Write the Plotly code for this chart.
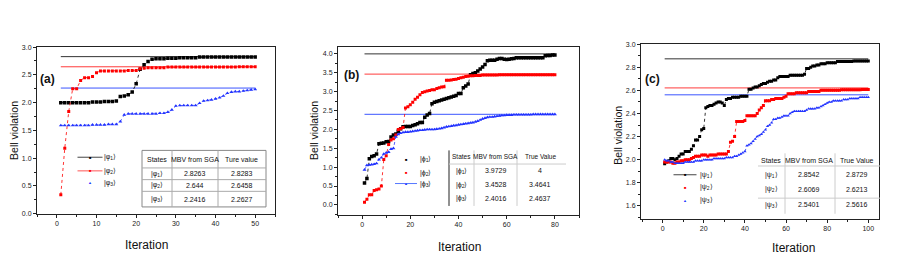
import plotly.graph_objects as go

W, H = 913, 276
OFF = 8  # page body margin
FONT = "Liberation Sans, Arial, sans-serif"

def px(x):
    return (x - OFF) / W

def py(y):
    return 1 - (y - OFF) / H

# ---------------- data ----------------
iter_a = list(range(1, 51))
a_phi1 = [2.00, 2.00, 2.00, 2.00, 2.00, 2.00, 2.00, 2.00, 2.01, 2.01,
          2.01, 2.02, 2.02, 2.02, 2.03, 2.11, 2.12, 2.14, 2.19, 2.34,
          2.60, 2.68, 2.74, 2.78, 2.79, 2.79, 2.79, 2.80, 2.80, 2.80,
          2.81, 2.81, 2.81, 2.81, 2.81, 2.82, 2.82, 2.82, 2.82, 2.82,
          2.82, 2.82, 2.82, 2.82, 2.82, 2.82, 2.82, 2.82, 2.82, 2.82]
a_phi2 = [0.34, 1.18, 1.84, 2.25, 2.25, 2.40, 2.45, 2.45, 2.47, 2.54,
          2.57, 2.57, 2.57, 2.57, 2.57, 2.57, 2.57, 2.58, 2.58, 2.58,
          2.61, 2.62, 2.63, 2.63, 2.63, 2.63, 2.63, 2.64, 2.64, 2.64,
          2.64, 2.64, 2.64, 2.64, 2.64, 2.64, 2.64, 2.64, 2.64, 2.64,
          2.64, 2.64, 2.64, 2.64, 2.64, 2.645, 2.645, 2.645, 2.645, 2.645]
a_phi3 = [1.59, 1.59, 1.59, 1.59, 1.59, 1.59, 1.59, 1.59, 1.60, 1.60,
          1.60, 1.60, 1.61, 1.61, 1.61, 1.66, 1.78, 1.80, 1.80, 1.80,
          1.80, 1.80, 1.80, 1.80, 1.80, 1.81, 1.81, 1.83, 1.87, 1.94,
          1.95, 1.95, 1.95, 1.95, 1.95, 1.99, 2.03, 2.04, 2.05, 2.07,
          2.09, 2.12, 2.17, 2.19, 2.20, 2.20, 2.21, 2.22, 2.23, 2.24]
ref_a = [2.8283, 2.6458, 2.2627]

iter_b = list(range(1, 81))
b_phi1 = [0.58, 0.70, 1.22, 1.28, 1.30, 1.35, 1.62, 1.63, 1.64, 1.67,
          1.68, 1.80, 1.85, 1.88, 1.95, 2.02, 2.07, 2.08, 2.08, 2.08,
          2.10, 2.12, 2.15, 2.18, 2.18, 2.32, 2.38, 2.42, 2.68, 2.72,
          2.74, 2.76, 2.78, 2.80, 2.82, 2.84, 2.86, 2.88, 2.90, 2.95,
          2.95, 3.10, 3.15, 3.20, 3.45, 3.48, 3.50, 3.55, 3.60, 3.65,
          3.72, 3.82, 3.83, 3.83, 3.83, 3.86, 3.88, 3.88, 3.86, 3.85,
          3.86, 3.87, 3.88, 3.90, 3.90, 3.90, 3.90, 3.90, 3.90, 3.90,
          3.90, 3.90, 3.90, 3.90, 3.90, 3.95, 3.96, 3.96, 3.97, 3.97]
b_phi2 = [0.07, 0.15, 0.27, 0.27, 0.38, 0.40, 0.42, 0.50, 1.20, 1.30,
          1.60, 1.72, 1.75, 1.85, 2.00, 2.02, 2.05, 2.57, 2.60, 2.65,
          2.72, 2.80, 2.85, 2.92, 2.98, 3.00, 3.02, 3.03, 3.05, 3.05,
          3.08, 3.10, 3.12, 3.13, 3.30, 3.30, 3.31, 3.32, 3.33, 3.35,
          3.37, 3.38, 3.40, 3.41, 3.42, 3.42, 3.43, 3.43, 3.43, 3.44,
          3.44, 3.44, 3.44, 3.44, 3.44, 3.44, 3.45, 3.45, 3.45, 3.45,
          3.45, 3.45, 3.45, 3.45, 3.45, 3.45, 3.45, 3.45, 3.45, 3.45,
          3.45, 3.45, 3.45, 3.45, 3.45, 3.45, 3.45, 3.45, 3.45, 3.45]
b_phi3 = [0.93, 1.05, 1.06, 1.07, 1.08, 1.10, 1.20, 1.25, 1.35, 1.38,
          1.40, 1.48, 1.50, 1.80, 1.87, 1.90, 1.92, 1.93, 1.93, 1.94,
          1.95, 1.96, 1.97, 1.98, 1.98, 1.99, 2.00, 2.00, 2.00, 2.00,
          2.01, 2.02, 2.03, 2.05, 2.07, 2.08, 2.09, 2.10, 2.11, 2.12,
          2.13, 2.14, 2.15, 2.16, 2.17, 2.18, 2.20, 2.22, 2.25, 2.28,
          2.30, 2.32, 2.33, 2.33, 2.34, 2.35, 2.36, 2.37, 2.37, 2.38,
          2.38, 2.38, 2.39, 2.39, 2.39, 2.39, 2.39, 2.39, 2.39, 2.39,
          2.40, 2.40, 2.40, 2.40, 2.40, 2.40, 2.40, 2.40, 2.40, 2.40]
ref_b = [4.0, 3.4641, 2.40]

iter_c = list(range(1, 101))
c_psi1 = [1.965, 1.98, 1.99, 2.01, 2.01, 2.00, 2.01, 2.03, 2.05, 2.05,
          2.07, 2.07, 2.07, 2.09, 2.12, 2.17, 2.17, 2.20, 2.26, 2.27,
          2.45, 2.46, 2.47, 2.47, 2.48, 2.49, 2.50, 2.50, 2.49, 2.47,
          2.52, 2.53, 2.53, 2.54, 2.54, 2.54, 2.54, 2.55, 2.55, 2.55,
          2.55, 2.61, 2.61, 2.62, 2.63, 2.63, 2.64, 2.65, 2.66, 2.66,
          2.67, 2.68, 2.68, 2.69, 2.69, 2.71, 2.72, 2.72, 2.72, 2.72,
          2.72, 2.73, 2.73, 2.73, 2.73, 2.73, 2.73, 2.73, 2.74, 2.79,
          2.79, 2.80, 2.81, 2.81, 2.82, 2.82, 2.83, 2.83, 2.83, 2.84,
          2.84, 2.84, 2.84, 2.84, 2.85, 2.85, 2.85, 2.85, 2.85, 2.85,
          2.85, 2.85, 2.855, 2.855, 2.855, 2.855, 2.855, 2.855, 2.855, 2.854]
c_psi2 = [1.98, 1.98, 1.98, 1.98, 1.97, 1.97, 1.98, 1.98, 1.99, 1.99,
          2.00, 2.00, 2.00, 2.01, 2.02, 2.03, 2.03, 2.03, 2.04, 2.04,
          2.04, 2.03, 2.04, 2.04, 2.04, 2.04, 2.05, 2.05, 2.05, 2.05,
          2.05, 2.07, 2.15, 2.16, 2.20, 2.33, 2.33, 2.33, 2.33, 2.34,
          2.38, 2.38, 2.38, 2.38, 2.38, 2.40, 2.43, 2.45, 2.47, 2.51,
          2.51, 2.51, 2.52, 2.52, 2.53, 2.53, 2.53, 2.53, 2.54, 2.55,
          2.57, 2.57, 2.57, 2.57, 2.58, 2.58, 2.58, 2.58, 2.58, 2.58,
          2.59, 2.59, 2.59, 2.59, 2.59, 2.59, 2.60, 2.60, 2.60, 2.60,
          2.60, 2.60, 2.60, 2.60, 2.60, 2.60, 2.605, 2.605, 2.605, 2.605,
          2.605, 2.605, 2.605, 2.605, 2.605, 2.605, 2.607, 2.607, 2.607, 2.607]
c_psi3 = [2.00, 1.99, 1.99, 1.98, 1.98, 1.97, 1.97, 1.97, 1.97, 1.97,
          1.98, 1.98, 1.98, 1.98, 1.98, 1.99, 1.99, 1.99, 1.99, 2.00,
          2.00, 2.00, 2.00, 2.00, 2.01, 2.01, 2.01, 2.01, 2.01, 2.01,
          2.02, 2.02, 2.02, 2.02, 2.03, 2.03, 2.04, 2.05, 2.06, 2.07,
          2.12, 2.13, 2.14, 2.16, 2.18, 2.20, 2.21, 2.22, 2.24, 2.26,
          2.29, 2.30, 2.32, 2.35, 2.35, 2.36, 2.36, 2.37, 2.38, 2.38,
          2.38, 2.40, 2.41, 2.42, 2.42, 2.42, 2.42, 2.42, 2.42, 2.43,
          2.44, 2.44, 2.44, 2.44, 2.45, 2.45, 2.46, 2.47, 2.48, 2.49,
          2.50, 2.50, 2.51, 2.51, 2.51, 2.51, 2.51, 2.52, 2.52, 2.52,
          2.53, 2.53, 2.53, 2.53, 2.53, 2.54, 2.54, 2.54, 2.54, 2.54]
ref_c = [2.8729, 2.6213, 2.5616]

kets_a = ["|φ<sub>1</sub>⟩", "|φ<sub>2</sub>⟩", "|φ<sub>3</sub>⟩"]
kets_b = ["|ϕ<sub>1</sub>⟩", "|ϕ<sub>2</sub>⟩", "|ϕ<sub>3</sub>⟩"]
kets_c = ["|ψ<sub>1</sub>⟩", "|ψ<sub>2</sub>⟩", "|ψ<sub>3</sub>⟩"]

table_a_head = ["States", "MBV from SGA", "Ture value"]
table_a_mbv = ["2.8263", "2.644", "2.2416"]
table_a_true = ["2.8283", "2.6458", "2.2627"]
table_b_head = ["States", "MBV from SGA", "True Value"]
table_b_mbv = ["3.9729", "3.4528", "2.4016"]
table_b_true = ["4", "3.4641", "2.4637"]
table_c_head = ["States", "MBV from SGA", "True Value"]
table_c_mbv = ["2.8542", "2.6069", "2.5401"]
table_c_true = ["2.8729", "2.6213", "2.5616"]

# ---------------- styles ----------------
COLORS = ["#000000", "#ff0000", "#2233ff"]
REF_COLORS = ["#333333", "#ff3b3b", "#3b55ff"]
SYMBOLS = ["square", "square", "triangle-up"]

fig = go.Figure()

panels = [
    dict(x=iter_a, ys=[a_phi1, a_phi2, a_phi3], ref=ref_a, xa="x", ya="y",
         dom_x=[37, 275], dom_y=[44, 215], xr=[-5, 55], yr=[0, 3.0],
         xdt=10, xminor=5, ydt=0.5, yminor=0.25, sizes=[3.5, 3, 3.5]),
    dict(x=iter_b, ys=[b_phi1, b_phi2, b_phi3], ref=ref_b, xa="x2", ya="y2",
         dom_x=[338, 579], dom_y=[44, 216], xr=[-10, 90], yr=[-0.26, 4.18],
         xdt=20, xminor=10, ydt=0.5, yminor=0.25, sizes=[3.5, 3, 3.5]),
    dict(x=iter_c, ys=[c_psi1, c_psi2, c_psi3], ref=ref_c, xa="x3", ya="y3",
         dom_x=[641, 879], dom_y=[41, 220], xr=[-10.5, 105.2], yr=[1.49, 3.0],
         xdt=20, xminor=10, ydt=0.2, yminor=0.1, sizes=[3, 3, 3]),
]

for i, p in enumerate(panels):
    for k in range(3):
        fig.add_trace(go.Scatter(
            x=[p["x"][0], p["x"][-1]], y=[p["ref"][k], p["ref"][k]],
            mode="lines", line=dict(color=REF_COLORS[k], width=1),
            xaxis=p["xa"], yaxis=p["ya"], showlegend=False, hoverinfo="skip"))
    for k in range(3):
        fig.add_trace(go.Scatter(
            x=p["x"], y=p["ys"][k], mode="lines+markers",
            line=dict(color=COLORS[k], width=0.8, dash="dot"),
            marker=dict(symbol=SYMBOLS[k], size=p["sizes"][k], color=COLORS[k],
                        line=dict(width=0)),
            xaxis=p["xa"], yaxis=p["ya"], showlegend=False))

    sfx = "" if i == 0 else str(i + 1)
    common = dict(showline=True, linecolor="#222", linewidth=1, mirror=True,
                  ticks="outside", ticklen=3, tickwidth=1, tickcolor="#222",
                  showgrid=False, zeroline=False,
                  tickfont=dict(size=7, family=FONT, color="#222"))
    fig.update_layout(**{
        "xaxis" + sfx: dict(common, domain=[px(p["dom_x"][0]), px(p["dom_x"][1])],
                            range=p["xr"], dtick=p["xdt"], tick0=0,
                            anchor="y" + sfx,
                            minor=dict(dtick=p["xminor"], tick0=0, ticks="outside",
                                       ticklen=2, tickcolor="#222")),
        "yaxis" + sfx: dict(common, domain=[py(p["dom_y"][1]), py(p["dom_y"][0])],
                            range=p["yr"], dtick=p["ydt"], tick0=0,
                            tickformat=".1f", anchor="x" + sfx,
                            minor=dict(dtick=p["yminor"], tick0=0, ticks="outside",
                                       ticklen=2, tickcolor="#222")),
    })

annotations = []
shapes = []

def text(x, y, s, size=7, anchor="center", bold=False, color="#111", angle=0):
    annotations.append(dict(
        x=px(x), y=py(y), xref="paper", yref="paper",
        text=("<b>%s</b>" % s) if bold else s,
        showarrow=False, xanchor=anchor, yanchor="middle", textangle=angle,
        font=dict(size=size, family=FONT, color=color)))

def hline(x0, x1, y, color="#999", width=1):
    shapes.append(dict(type="line", xref="paper", yref="paper",
                       x0=px(x0), x1=px(x1), y0=py(y), y1=py(y),
                       line=dict(color=color, width=width)))

def vline(x, y0, y1, color="#999", width=1):
    shapes.append(dict(type="line", xref="paper", yref="paper",
                       x0=px(x), x1=px(x), y0=py(y0), y1=py(y1),
                       line=dict(color=color, width=width)))

# axis titles and panel labels
for (bx, by), (ix, iy), (lx, ly), lab in [((14, 130), (146, 247), (47, 77), "(a)"),
                                          ((314, 130), (459, 249), (351, 73), "(b)"),
                                          ((618, 135), (793, 250), (652, 77), "(c)")]:
    text(bx, by, "Bell violation", size=10.5, angle=-90, color="#111")
    text(ix, iy, "Iteration", size=12, color="#111")
    text(lx, ly, lab, size=12, bold=True, color="#111")

# legends
MARK = {"square": "■", "triangle-up": "▲"}
LEG_LINE = ["#444444", "#ff5555", "#5577ff"]

def legend_row(xc, y, k, label, line_w=None, tx=None, msize=4):
    if line_w:
        hline(xc - line_w / 2, xc + line_w / 2, y, color=LEG_LINE[k], width=1)
    text(xc, y, MARK[SYMBOLS[k]], size=msize, color=COLORS[k])
    text(tx, y, label, size=7, anchor="left", color="#111")

legend_row(90, 157, 0, kets_a[0], 25, 102)
legend_row(90, 171, 1, kets_a[1], 25, 102)
legend_row(90, 183, 2, kets_a[2], None, 102)

legend_row(406, 159, 0, kets_b[0], None, 418)
legend_row(406, 173, 1, kets_b[1], None, 418)
legend_row(406, 184, 2, kets_b[2], 22, 418)

legend_row(685, 175, 0, kets_c[0], 23, 698)
legend_row(685, 188, 1, kets_c[1], None, 698)
legend_row(685, 201, 2, kets_c[2], None, 698)

# table (a): full grid
shapes.append(dict(type="rect", xref="paper", yref="paper",
                   x0=px(142), x1=px(266), y0=py(208), y1=py(150),
                   line=dict(color="#888", width=1)))
for xv in (172, 218):
    vline(xv, 150, 208, color="#aaa")
for yv in (168, 180, 192):
    hline(142, 266, yv, color="#aaa")
cols_a = [157, 195, 242]
for c, h in zip(cols_a, table_a_head):
    text(c, 159, h, size=7)
for r, yv in enumerate([174, 186, 200]):
    text(cols_a[0], yv, kets_a[r], size=7)
    text(cols_a[1], yv, table_a_mbv[r], size=7)
    text(cols_a[2], yv, table_a_true[r], size=7)

# table (b)
vline(449, 150, 207, color="#222")
hline(449, 566, 164, color="#ccc")
for xv in (474, 517):
    vline(xv, 150, 207, color="#ccc")
cols_b = [461, 496, 540]
for c, h in zip(cols_b, table_b_head):
    text(c, 156, h, size=6.5)
for r, yv in enumerate([171, 185, 199]):
    text(cols_b[0], yv, kets_b[r], size=7)
    text(cols_b[1], yv, table_b_mbv[r], size=7)
    text(cols_b[2], yv, table_b_true[r], size=7)

# table (c)
hline(758, 880, 166, color="#ccc")
hline(758, 880, 199, color="#ccc")
for xv in (785, 835):
    vline(xv, 153, 215, color="#ccc")
cols_c = [771, 809, 857]
for c, h in zip(cols_c, table_c_head):
    text(c, 160, h, size=7)
for r, yv in enumerate([175, 190, 206]):
    text(cols_c[0], yv, kets_c[r], size=7)
    text(cols_c[1], yv, table_c_mbv[r], size=7)
    text(cols_c[2], yv, table_c_true[r], size=7)

fig.update_layout(
    width=W, height=H, margin=dict(l=0, r=0, t=0, b=0),
    paper_bgcolor="white", plot_bgcolor="white",
    showlegend=False, annotations=annotations, shapes=shapes,
    font=dict(family=FONT, color="#111"),
)

fig.write_html("out.html")
